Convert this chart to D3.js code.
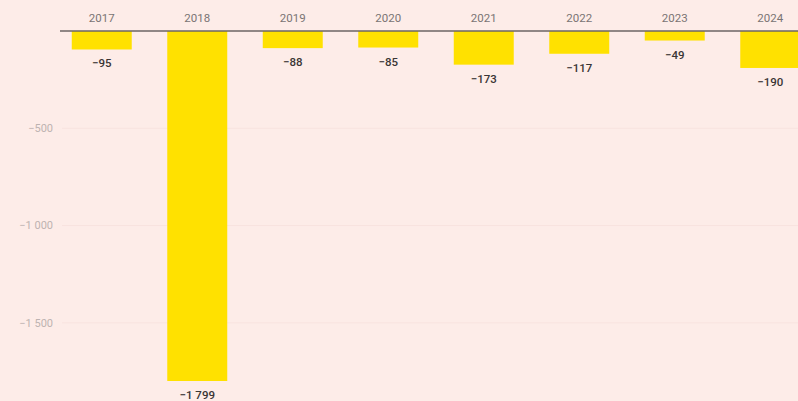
<!DOCTYPE html>
<html><head><meta charset="utf-8">
<script src="https://cdn.jsdelivr.net/npm/d3@7"></script>
<style>
html,body{margin:0;padding:0;background:#fdece8;}
svg{display:block;}
</style></head>
<body>
<script>
const years = ["2017","2018","2019","2020","2021","2022","2023","2024"];
const values = [-95,-1799,-88,-85,-173,-117,-49,-190];
const yTicks = [-500,-1000,-1500];

const W = 798, H = 401;
const svg = d3.select("body").append("svg").attr("width",W).attr("height",H);
svg.append("rect").attr("width",W).attr("height",H).attr("fill","#fdece8");

const x = d3.scaleBand().domain(years).range([54, 818]).paddingInner(0.372).paddingOuter(0.186);
const y = d3.scaleLinear().domain([0,-1799]).range([31, 381]);
const fmt = v => (v<0?"\u2212":"") + d3.format(",")(Math.abs(v)).replace(/,/g," ");

// gridlines
svg.append("g").selectAll("line").data(yTicks).join("line")
  .attr("x1",62).attr("x2",W).attr("y1",d=>y(d)).attr("y2",d=>y(d))
  .attr("stroke","#f8e3df").attr("stroke-width",1);
svg.append("g").selectAll("text").data(yTicks).join("text")
  .attr("x",53).attr("y",d=>y(d)).attr("dy","0.35em").attr("text-anchor","end")
  .attr("font-family","Roboto, sans-serif").attr("font-size",11).attr("fill","#bdb3b1")
  .text(fmt);

// bars
svg.append("g").selectAll("rect").data(values).join("rect")
  .attr("x",(d,i)=>x(years[i])).attr("width",x.bandwidth())
  .attr("y",y(0)).attr("height",d=>y(d)-y(0)).attr("fill","#ffe100");

// zero line
svg.append("line").attr("x1",60).attr("x2",W).attr("y1",y(0)).attr("y2",y(0))
  .attr("stroke","#6b6464").attr("stroke-width",1.5);

// year labels
svg.append("g").selectAll("text").data(years).join("text")
  .attr("x",d=>x(d)+x.bandwidth()/2).attr("y",22).attr("text-anchor","middle")
  .attr("font-family","Roboto, sans-serif").attr("font-size",11.5).attr("fill","#7a7474")
  .text(d=>d);

// value labels
svg.append("g").selectAll("text").data(values).join("text")
  .attr("x",(d,i)=>x(years[i])+x.bandwidth()/2).attr("y",d=>y(d)+18).attr("text-anchor","middle")
  .attr("font-family","Roboto, sans-serif").attr("font-size",11.5).attr("font-weight",500).attr("fill","#3a3535")
  .text(fmt);
</script>
</body></html>
